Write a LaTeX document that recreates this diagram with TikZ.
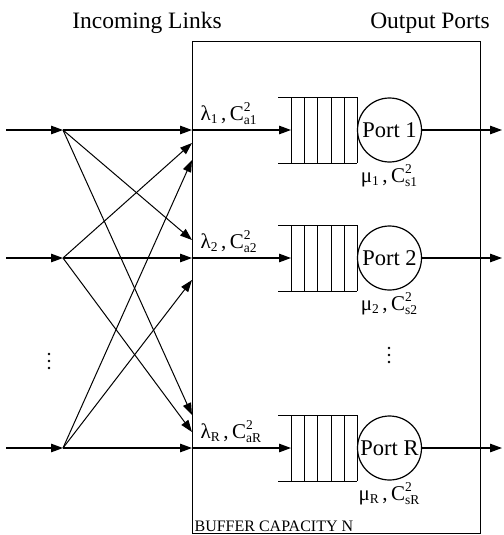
\documentclass[tikz,border=0pt]{standalone}
\usepackage{fontspec}
\setmainfont{Liberation Serif}
\usetikzlibrary{arrows.meta}
\newcommand{\smallf}{\fontsize{13.5}{13.5}\selectfont}
\newcommand{\varlab}[3]{#1\raisebox{-0.35ex}{\smallf #2}\,,\,C\rlap{\raisebox{0.85ex}{\smallf 2}}\raisebox{-0.45ex}{\smallf #3}}
\begin{document}
\begin{tikzpicture}[x=1pt,y=-1pt,line width=1.2pt,
  arr/.style={-{Triangle[length=12pt,width=8.5pt]}},
  thin line/.style={line width=1pt},
  portnode/.style={draw,circle,minimum size=64pt,inner sep=0pt,font=\fontsize{22.5}{22.5}\selectfont},
  title/.style={font=\fontsize{23.5}{23.5}\selectfont,inner sep=0pt},
  varnode/.style={font=\fontsize{21}{21}\selectfont,inner sep=0pt},
  dot/.style={circle,fill,inner sep=0pt,minimum size=2.8pt}]
\useasboundingbox (0,0) rectangle (503,535);

% titles
\node[title] (tin) at (147,23) {Incoming Links};
\node[title] (tout) at (430,23) {Output Ports};

% buffer box
\node[draw,line width=0.9pt,anchor=north west,minimum width=288pt,minimum height=492pt,inner sep=0pt] (box) at (192,41) {};
\node[anchor=south west,inner sep=0pt,font=\fontsize{16}{16}\selectfont] (cap) at (194,532) {BUFFER CAPACITY N};

% rows
\foreach \r/\y/\lab in {1/130/1, 2/258/2, 3/448/R}{
  \coordinate (in\r) at (6,\y);
  \coordinate (s\r) at (63,\y);
  \coordinate (e\r) at (192,\y);
  \coordinate (q\r) at (291,\y);
  \coordinate (o\r) at (502,\y);
  \node[portnode] (p\r) at (389.5,\y) {Port \lab};
  % queue
  \draw[thin line] (278,\y-33) -- (357,\y-33);
  \draw[thin line] (278,\y+33) -- (357,\y+33);
  \foreach \xx in {291,304,317,331,344,357}{
    \draw[thin line] (\xx,\y-33) -- (\xx,\y+33);
  }
  \draw[arr] (in\r) -- (s\r);
  \draw[arr] (s\r) -- (e\r);
  \draw[arr] (e\r) -- (q\r);
  \draw[arr] (p\r.east) -- (o\r);
  \node[varnode,anchor=base west] (lam\r) at (200,\y-10) {\varlab{λ}{\lab}{a\lab}};
  \node[varnode,anchor=base] (mu\r) at (389,\y+52) {\varlab{μ}{\lab}{s\lab}};
}

% crossing targets on the box edge
\coordinate (t12) at (192,240);
\coordinate (t13) at (192,415);
\coordinate (t21) at (192,143);
\coordinate (t23) at (192,432);
\coordinate (t31) at (192,160);
\coordinate (t32) at (192,280);
\draw[arr,thin line] (s1) -- (t12);
\draw[arr,thin line] (s1) -- (t13);
\draw[arr,thin line] (s2) -- (t21);
\draw[arr,thin line] (s2) -- (t23);
\draw[arr,thin line] (s3) -- (t31);
\draw[arr,thin line] (s3) -- (t32);

% vertical ellipses
\foreach \yy [count=\i] in {354,361,368}{
  \node[dot] (da\i) at (49,\yy) {};
  \node[dot] (db\i) at (389,\yy-6) {};
}
\end{tikzpicture}
\end{document}
